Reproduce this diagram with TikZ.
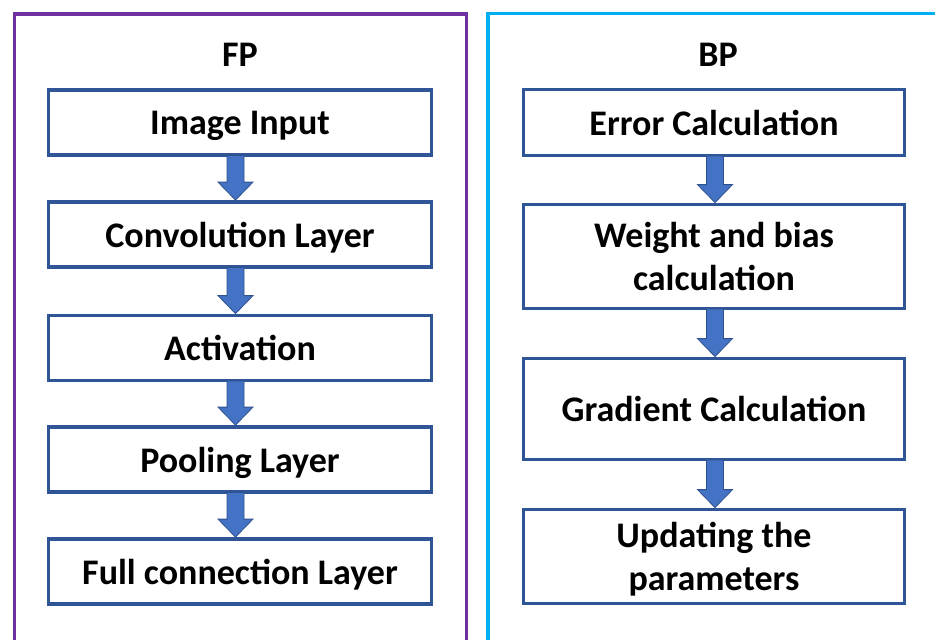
\documentclass[tikz,border=0pt]{standalone}
\usepackage{fontspec}
\setmainfont{Carlito}
\usetikzlibrary{calc}
\definecolor{fppurple}{HTML}{7030A0}
\definecolor{bpcyan}{HTML}{00B0F0}
\definecolor{boxblue}{HTML}{2F5597}
\definecolor{arrowblue}{HTML}{4472C4}
\definecolor{arrowline}{HTML}{2F528F}
\tikzset{
  panel/.style={line width=3.5pt},
  stepbox/.style={draw=boxblue, line width=3.8pt, fill=white, rectangle,
    align=center, font=\fontsize{36}{43}\selectfont\bfseries, inner sep=0pt,
    text depth=0pt},
  fpbox/.style={stepbox, minimum width=383pt, minimum height=65pt},
  bpbox/.style={stepbox, minimum width=381pt},
  title/.style={font=\fontsize{36}{40}\selectfont\bfseries},
  arrowfill/.style={fill=arrowblue, draw=arrowline, line width=0.8pt, line join=miter}
}
\newcommand\blockarrow[3]{%
  \path let \p1=(#1.south), \p2=(#2.north) in [arrowfill]
    (\x1+#3-8.5pt,\y1+1.5pt) -- (\x1+#3-8.5pt,\y2+18pt) -- (\x1+#3-17.5pt,\y2+18pt)
    -- (\x1+#3,\y2) -- (\x1+#3+17.5pt,\y2+18pt) -- (\x1+#3+8.5pt,\y2+18pt)
    -- (\x1+#3+8.5pt,\y1+1.5pt) -- cycle;}
\begin{document}
\begin{tikzpicture}[x=1pt,y=-1pt]
\useasboundingbox (0,0) rectangle (935,640);
\clip (0,0) rectangle (935,640);
\fill[white] (0,0) rectangle (935,640);
% panels
\draw[panel, draw=fppurple] (14.5,14) rectangle (466.5,660);
\draw[panel, draw=bpcyan] (488,13.5) rectangle (960,660);
% titles
\node[title] (fpt) at (240,55) {FP};
\node[title] (bpt) at (718,55) {BP};
% FP column
\node[fpbox] (f1) at (240,122.5) {Image Input};
\node[fpbox] (f2) at (240,234.5) {Convolution Layer};
\node[fpbox] (f3) at (240,348) {Activation};
\node[fpbox] (f4) at (240,459.5) {Pooling Layer};
\node[fpbox] (f5) at (240,571.5) {Full connection Layer};
% BP column
\node[bpbox, minimum height=66pt] (b1) at (714,122.5) {Error Calculation};
\node[bpbox, minimum height=104pt] (b2) at (714,256.5) {Weight and bias\\calculation};
\node[bpbox, minimum height=101pt] (b3) at (714,409) {Gradient Calculation};
\node[bpbox, minimum height=94pt] (b4) at (714,556.5) {Updating the\\parameters};
% arrows
\blockarrow{f1}{f2}{-4.5pt}
\blockarrow{f2}{f3}{-4.5pt}
\blockarrow{f3}{f4}{-4.5pt}
\blockarrow{f4}{f5}{-4.5pt}
\blockarrow{b1}{b2}{1pt}
\blockarrow{b2}{b3}{1pt}
\blockarrow{b3}{b4}{1pt}
\end{tikzpicture}
\end{document}
